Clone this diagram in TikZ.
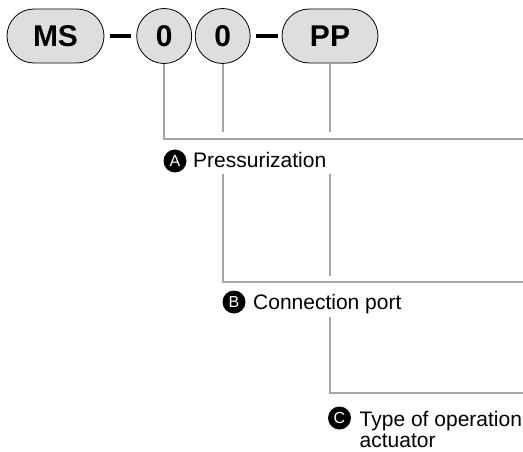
\documentclass[tikz,border=0pt]{standalone}
\usepackage{fontspec}
\setmainfont{Liberation Sans}
\usetikzlibrary{positioning}

\definecolor{pillgray}{HTML}{DEDEDE}
\definecolor{leadgray}{HTML}{A6A6A6}

\tikzset{
  pill/.style={draw=black,line width=0.8pt,fill=pillgray,rounded corners=27pt,
    minimum height=54pt,inner sep=0pt,font=\fontsize{30}{30}\selectfont\bfseries},
  ring/.style={draw=black,line width=0.8pt,fill=pillgray,circle,
    minimum size=55pt,inner sep=0pt,font=\fontsize{30}{30}\selectfont\bfseries},
  dashbar/.style={line width=4pt,black},
  leader/.style={leadgray,line width=1.6pt},
  badge/.style={circle,fill=black,text=white,minimum size=23pt,inner sep=0pt,
    font=\fontsize{16}{16}\selectfont},
  lbl/.style={inner sep=0pt,font=\fontsize{21}{21}\selectfont,align=left}
}

\begin{document}
\begin{tikzpicture}[x=1pt,y=-1pt]
  \useasboundingbox (0,0) rectangle (523,452);

  % code boxes
  \node[pill,minimum width=97pt] (ms) at (55.5,36) {MS};
  \node[ring] (za) at (164.2,36) {0};
  \node[ring] (zb) at (222.7,36) {0};
  \node[pill,minimum width=96pt] (pp) at (330,36) {PP};

  \draw[dashbar,shorten <=6pt,shorten >=5pt] (ms) -- (za);
  \draw[dashbar,shorten <=5pt,shorten >=4pt] (zb) -- (pp);

  % right ends of the leaders
  \coordinate (ra) at (523,139);
  \coordinate (rb) at (523,282);
  \coordinate (rc) at (523,393);

  % A
  \draw[leader] (za.south) |- (ra);
  \node[badge] (ba) at (175,161) {A};
  \node[lbl,anchor=base west] (ta) at (193,167.3) {Pressurization};

  % B
  \draw[leader] (zb.south) -- (zb.south |- 0,132);
  \draw[leader] (zb.south |- 0,174) |- (rb);
  \node[badge] (bb) at (234,302) {B};
  \node[lbl,anchor=base west] (tb) at (253,309.3) {Connection port};

  % C
  \draw[leader] (pp.south) -- (pp.south |- 0,132);
  \draw[leader] (pp.south |- 0,174) -- (pp.south |- 0,276);
  \draw[leader] (pp.south |- 0,317) |- (rc);
  \node[badge] (bc) at (339.5,418) {C};
  \node[lbl,anchor=base west] (tc) at (359.5,447.5) {Type of operation\\actuator};
\end{tikzpicture}
\end{document}
